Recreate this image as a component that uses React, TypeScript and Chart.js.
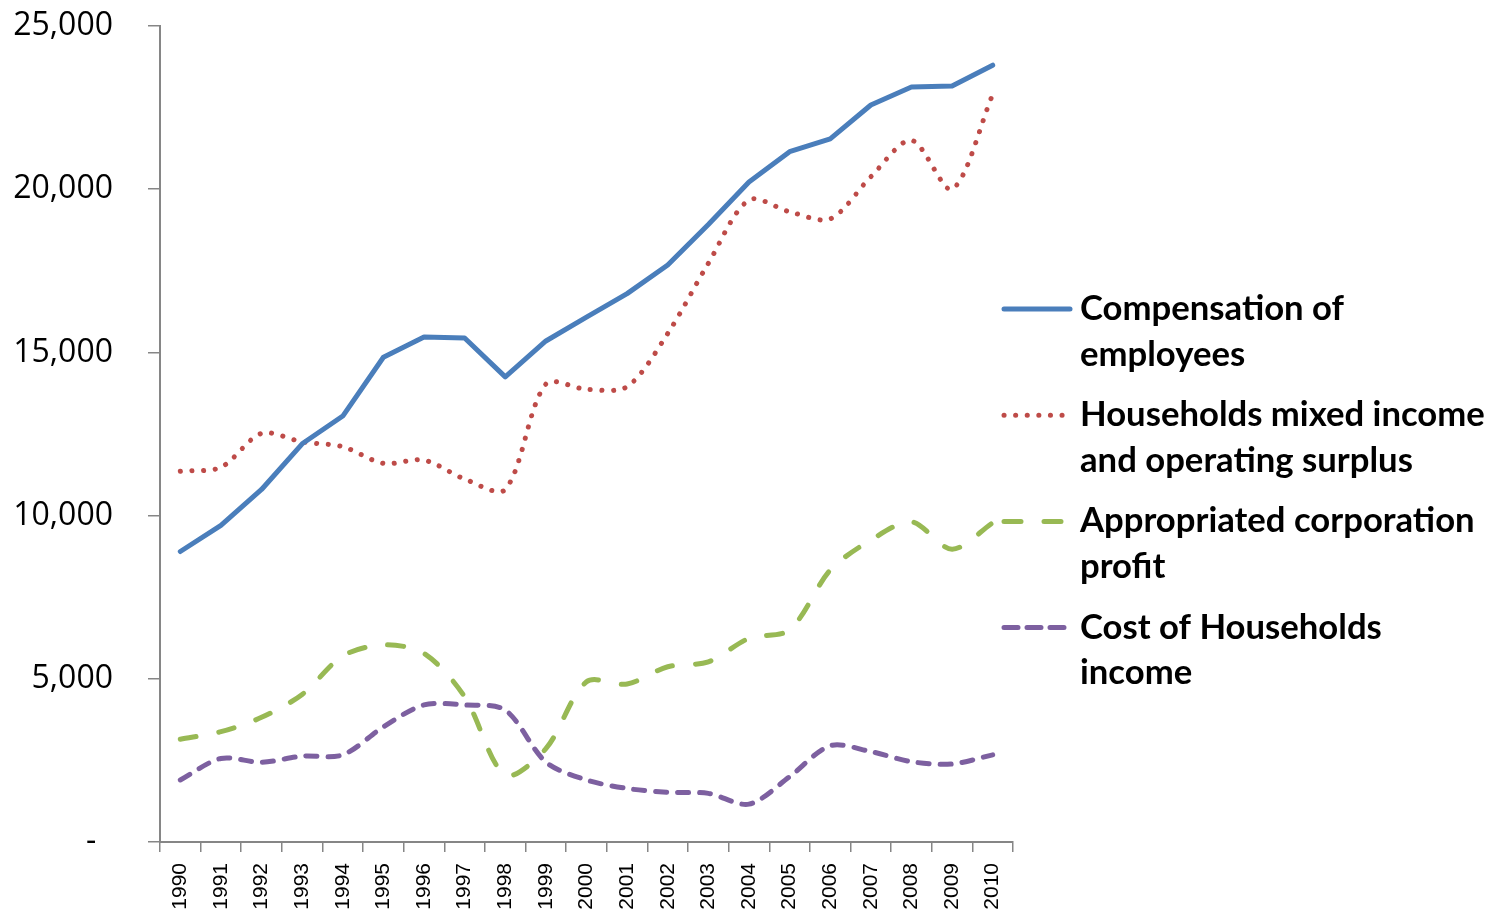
import React, { useEffect, useRef } from "react";
import { Chart, registerables } from "chart.js";

Chart.register(...registerables);

const years = ["1990","1991","1992","1993","1994","1995","1996","1997","1998","1999","2000","2001","2002","2003","2004","2005","2006","2007","2008","2009","2010"];

const compensation = [8900, 9700, 10800, 12200, 13050, 14850, 15470, 15440, 14250, 15350, 16080, 16800, 17680, 18920, 20220, 21150, 21540, 22580, 23130, 23160, 23800];
const mixedIncome = [11360, 11480, 12520, 12260, 12110, 11600, 11700, 11120, 10800, 14030, 13870, 13950, 15580, 17730, 19670, 19310, 19090, 20380, 21500, 20000, 22900];
const corpProfit = [3150, 3380, 3820, 4520, 5700, 6040, 5780, 4450, 2050, 2860, 4910, 4840, 5370, 5520, 6240, 6500, 8330, 9250, 9810, 8970, 9780];
const householdCost = [1900, 2560, 2440, 2630, 2670, 3530, 4200, 4200, 4040, 2450, 1900, 1640, 1520, 1490, 1160, 2000, 2950, 2770, 2460, 2390, 2670];

const seriesLabels = [
  "Compensation of employees",
  "Households mixed income and operating surplus",
  "Appropriated corporation profit",
  "Cost of Households income",
];
const legendLines = [
  ["Compensation of", "employees"],
  ["Households mixed income", "and operating surplus"],
  ["Appropriated corporation", "profit"],
  ["Cost of Households", "income"],
];

const yTicks = [0, 5000, 10000, 15000, 20000, 25000];

const colors = ["#4A7EBB", "#BE4B48", "#98B954", "#7D60A0"];
const dashes: number[][] = [[], [0.1, 11.5], [16, 23], [11, 11]];
const legendDashes: number[][] = [[], [0.1, 11.5], [17, 23], [14, 9]];

const legendPlugin = {
  id: "customLegend",
  afterDraw(chart: any) {
    const ctx = chart.ctx as CanvasRenderingContext2D;
    ctx.save();
    const family = "Lato, 'Open Sans', sans-serif";
    ctx.font = `bold 100px ${family}`;
    const w = ctx.measureText("Households mixed income").width;
    const size = Math.min(36, (405 / w) * 100);
    const x0 = 1080;
    const top = 309;
    const step = 106.2;
    chart.data.datasets.forEach((ds: any, i: number) => {
      const y = top + i * step;
      ctx.beginPath();
      ctx.strokeStyle = colors[i];
      ctx.lineWidth = 5;
      ctx.lineCap = "round";
      ctx.setLineDash(legendDashes[i]);
      ctx.moveTo(1004, y);
      ctx.lineTo(i === 0 ? 1070 : 1064, y);
      ctx.stroke();
      ctx.setLineDash([]);
      ctx.fillStyle = "#000000";
      ctx.font = `bold ${size}px ${family}`;
      ctx.textAlign = "left";
      ctx.textBaseline = "alphabetic";
      legendLines[i].forEach((line, j) => {
        ctx.fillText(line, x0, y + 11 + j * 45.5);
      });
    });
    ctx.restore();
  },
};

export default function App() {
  const ref = useRef<HTMLCanvasElement | null>(null);
  useEffect(() => {
    if (!ref.current) return;
    const seriesData = [compensation, mixedIncome, corpProfit, householdCost];
    const chart = new Chart(ref.current, {
      type: "line",
      data: {
        labels: years,
        datasets: seriesData.map((d, i) => ({
          label: seriesLabels[i],
          data: d,
          borderColor: colors[i],
          backgroundColor: colors[i],
          borderWidth: 5,
          borderDash: dashes[i],
          borderCapStyle: "round" as const,
          borderJoinStyle: "round" as const,
          pointRadius: 0,
          tension: i === 0 ? 0 : 0.3,
          fill: false,
        })),
      },
      options: {
        responsive: false,
        animation: false,
        layout: { padding: { top: 26, right: 478, bottom: 0, left: 0 } },
        plugins: {
          legend: { display: false },
          tooltip: { enabled: false },
          title: { display: false },
        },
        scales: {
          x: {
            type: "category",
            offset: true,
            afterFit: (s: any) => {
              s.height = 69;
              s.paddingLeft = 0;
              s.paddingRight = 0;
            },
            grid: {
              drawOnChartArea: false,
              drawTicks: true,
              tickLength: 10,
              color: "#868686",
              lineWidth: 1.5,
              offset: true,
            },
            border: { display: true, color: "#868686", width: 2 },
            ticks: {
              autoSkip: false,
              minRotation: 90,
              maxRotation: 90,
              padding: 11,
              color: "#000000",
              font: { family: "'Liberation Sans', Arial, sans-serif", size: 21 },
            },
          },
          y: {
            min: 0,
            max: 25000,
            afterFit: (s: any) => {
              s.width = 160;
              s.paddingTop = 0;
              s.paddingBottom = 0;
            },
            afterBuildTicks: (s: any) => { s.ticks = yTicks.map((v) => ({ value: v })); },
            grid: {
              drawOnChartArea: false,
              drawTicks: true,
              tickLength: 12,
              color: "#868686",
              lineWidth: 1.5,
            },
            border: { display: true, color: "#868686", width: 2 },
            ticks: {
              padding: 35,
              color: "#000000",
              font: { family: "'Open Sans', sans-serif", size: 32 },
              callback: (v: any) => (Number(v) === 0 ? "-  " : Number(v).toLocaleString("en-US")),
            },
          },
        },
      },
      plugins: [legendPlugin],
    });
    return () => chart.destroy();
  }, []);
  return (
    <div style={{ position: "absolute", left: 0, top: 0, width: 1491, height: 911, background: "#ffffff" }}>
      <canvas ref={ref} width={1491} height={911} style={{ display: "block" }} />
    </div>
  );
}
